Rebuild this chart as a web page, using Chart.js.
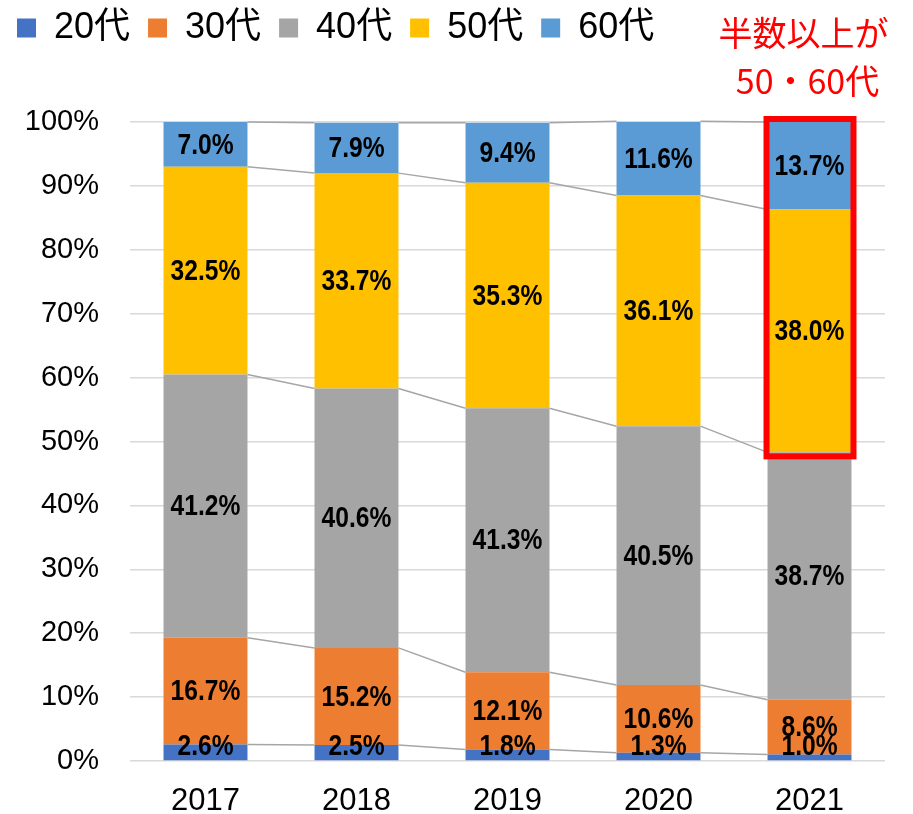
<!DOCTYPE html>
<html><head><meta charset="utf-8">
<script src="https://cdn.jsdelivr.net/npm/chart.js@4/dist/chart.umd.min.js"></script>
<style>html,body{margin:0;padding:0;background:#fff;}#wrap{width:913px;height:814px;}</style>
</head><body><div id="wrap"><canvas id="c" width="913" height="814"></canvas></div>
<script>
const years = ['2017', '2018', '2019', '2020', '2021'];
const seriesNames = ['20代', '30代', '40代', '50代', '60代'];
const v20 = [2.6, 2.5, 1.8, 1.3, 1.0];
const v30 = [16.7, 15.2, 12.1, 10.6, 8.6];
const v40 = [41.2, 40.6, 41.3, 40.5, 38.7];
const v50 = [32.5, 33.7, 35.3, 36.1, 38.0];
const v60 = [7.0, 7.9, 9.4, 11.6, 13.7];
const noteLines = ['半数以上が', '50・60代'];
const highlightYear = '2021';
const highlightSeries = ['50代', '60代'];

const colors = ['#4472C4', '#ED7D31', '#A5A5A5', '#FFC000', '#5B9BD5'];
const allValues = [v20, v30, v40, v50, v60];

const SANS = "'Liberation Sans', 'Noto Sans CJK JP', sans-serif";

const legendFix = {
  id: 'legendFix',
  afterInit(chart) {
    const lg = chart.legend;
    if (lg) {
      const f = lg.fit.bind(lg);
      lg.fit = function () { f(); this.height = 122; };
    }
  },
  afterLayout(chart) {
    const lg = chart.legend;
    if (lg) { lg.top = -8; lg.left = -1; }
  }
};

const seriesLines = {
  id: 'seriesLines',
  afterDatasetsDraw(chart) {
    const ctx = chart.ctx;
    ctx.save();
    ctx.strokeStyle = '#A6A6A6';
    ctx.lineWidth = 1.5;
    chart.data.datasets.forEach((ds, di) => {
      const meta = chart.getDatasetMeta(di);
      for (let i = 0; i < meta.data.length - 1; i++) {
        const a = meta.data[i], b = meta.data[i + 1];
        ctx.beginPath();
        ctx.moveTo(a.x + a.width / 2, a.y);
        ctx.lineTo(b.x - b.width / 2, b.y);
        ctx.stroke();
      }
    });
    ctx.restore();
  }
};

const dataLabels = {
  id: 'dataLabels',
  afterDatasetsDraw(chart) {
    const ctx = chart.ctx;
    const bottom = chart.chartArea.bottom;
    chart.data.datasets.forEach((ds, di) => {
      const meta = chart.getDatasetMeta(di);
      meta.data.forEach((el, i) => {
        const y = Math.min((el.y + el.base) / 2, bottom - 15);
        ctx.save();
        ctx.font = "bold 30px " + SANS;
        ctx.fillStyle = '#000';
        ctx.textAlign = 'center';
        ctx.textBaseline = 'middle';
        ctx.translate(el.x, y + 1);
        ctx.scale(0.82, 1);
        ctx.fillText(ds.data[i].toFixed(1) + '%', 0, 0);
        ctx.restore();
      });
    });
  }
};

const highlight = {
  id: 'highlight',
  afterDraw(chart) {
    const idx = chart.data.labels.indexOf(highlightYear);
    const dsIdx = highlightSeries.map(n => chart.data.datasets.findIndex(d => d.label === n));
    let top = Infinity, bot = -Infinity, l = 0, r = 0;
    dsIdx.forEach(di => {
      const el = chart.getDatasetMeta(di).data[idx];
      top = Math.min(top, el.y, el.base);
      bot = Math.max(bot, el.y, el.base);
      l = el.x - el.width / 2; r = el.x + el.width / 2;
    });
    const ctx = chart.ctx;
    ctx.save();
    ctx.strokeStyle = '#FF0000';
    ctx.lineWidth = 6;
    ctx.strokeRect(l - 1, top - 3, (r - l) + 3, (bot - top) + 7);
    ctx.font = "34px 'Noto Sans CJK JP', sans-serif";
    ctx.fillStyle = '#FF0000';
    ctx.textAlign = 'center';
    ctx.textBaseline = 'middle';
    const cx = (l + r) / 2 - 6;
    ctx.fillText(noteLines[0], cx, 33);
    ctx.fillText(noteLines[1], cx + 4, 81);
    ctx.restore();
  }
};

new Chart(document.getElementById('c'), {
  type: 'bar',
  data: {
    labels: years,
    datasets: seriesNames.map((n, i) => ({
      label: n,
      data: allValues[i],
      backgroundColor: colors[i],
      borderWidth: 0,
      categoryPercentage: 1,
      barPercentage: 0.556
    }))
  },
  options: {
    responsive: false,
    animation: false,
    devicePixelRatio: 1,
    layout: { padding: { left: 0, right: 28, top: 0, bottom: 0 } },
    plugins: {
      tooltip: { enabled: false },
      legend: {
        position: 'top',
        align: 'start',
        labels: {
          boxWidth: 19,
          boxHeight: 19,
          padding: 18,
          color: '#000',
          font: { size: 36, family: SANS }
        }
      }
    },
    scales: {
      x: {
        stacked: true,
        grid: { display: false },
        border: { display: false },
        ticks: { color: '#000', padding: 14, font: { size: 31, family: SANS } },
        afterFit(s) { s.height = 53; }
      },
      y: {
        stacked: true,
        min: 0,
        max: 100,
        grid: { color: '#D9D9D9', lineWidth: 1.5, drawTicks: false },
        border: { display: false },
        ticks: {
          stepSize: 10,
          color: '#000',
          padding: 31,
          font: { size: 29, family: SANS },
          callback: v => v + '%'
        },
        afterFit(s) { s.width = 130; }
      }
    }
  },
  plugins: [legendFix, seriesLines, dataLabels, highlight]
});
</script>
</body></html>
